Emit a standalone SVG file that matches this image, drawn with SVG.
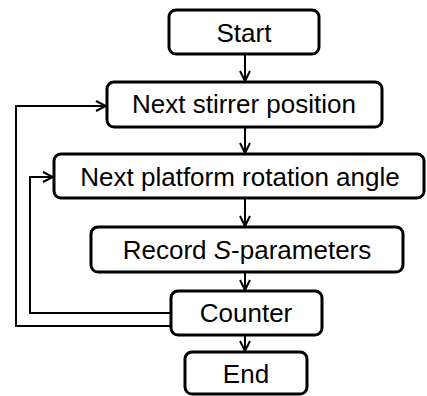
<svg xmlns="http://www.w3.org/2000/svg" width="427" height="396" viewBox="0 0 427 396">
<style>
.box{fill:#fff;stroke:#000;stroke-width:3}
.t{font-family:"Liberation Sans",Arial,sans-serif;font-size:26px;text-anchor:middle;fill:#000}
.c{fill:none;stroke:#000;stroke-width:2}
</style>
<defs>
<marker id="a" viewBox="0 0 12 12" refX="11" refY="6" markerWidth="12" markerHeight="12" markerUnits="userSpaceOnUse" orient="auto">
<polyline points="1,1 11,6 1,11" fill="none" stroke="#000" stroke-width="2"/>
</marker>
</defs>
<g id="connectors">
<line class="c" x1="245" y1="54" x2="245" y2="81" marker-end="url(#a)"/>
<line class="c" x1="245" y1="127" x2="245" y2="153" marker-end="url(#a)"/>
<line class="c" x1="245" y1="198" x2="245" y2="226" marker-end="url(#a)"/>
<line class="c" x1="245" y1="272" x2="245" y2="290" marker-end="url(#a)"/>
<line class="c" x1="245" y1="335" x2="245" y2="351" marker-end="url(#a)"/>
<polyline class="c" points="171,326 16,326 16,106 106,106" marker-end="url(#a)"/>
<polyline class="c" points="171,313 30,313 30,177 53,177" marker-end="url(#a)"/>
</g>
<g id="start"><rect class="box" x="169" y="10" width="150" height="44" rx="7"/><text class="t" x="244" y="42">Start</text></g>
<g id="stirrer"><rect class="box" x="107" y="82" width="275" height="45" rx="7"/><text class="t" x="244" y="113">Next stirrer position</text></g>
<g id="platform"><rect class="box" x="54" y="154" width="370" height="44" rx="7"/><text class="t" x="240" y="186">Next platform rotation angle</text></g>
<g id="record"><rect class="box" x="91" y="227" width="312" height="45" rx="7"/><text class="t" x="247" y="259">Record <tspan font-style="italic">S</tspan>-parameters</text></g>
<g id="counter"><rect class="box" x="171" y="291" width="151" height="44" rx="7"/><text class="t" x="246" y="322">Counter</text></g>
<g id="end"><rect class="box" x="185" y="352" width="122" height="42" rx="7"/><text class="t" x="246" y="383">End</text></g>
</svg>
